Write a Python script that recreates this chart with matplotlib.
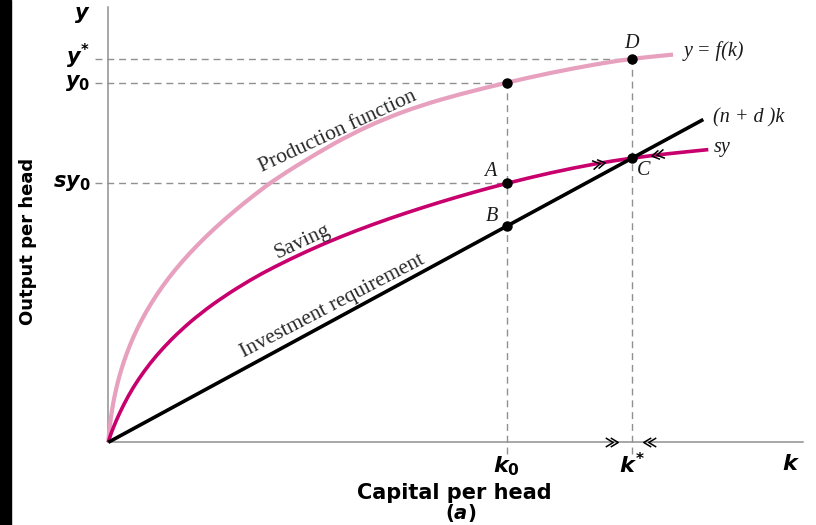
import matplotlib
matplotlib.use("Agg")
import matplotlib.pyplot as plt
from matplotlib.patches import Rectangle, PathPatch
from matplotlib.path import Path
from matplotlib.markers import MarkerStyle
from matplotlib.transforms import Affine2D

# curves (k = capital per head, y = output per head)
prod_k = [0, 0.012, 0.034, 0.064, 0.104, 0.154, 0.216, 0.29, 0.378, 0.481, 0.60,
          0.736, 0.891, 1.063, 1.252, 1.458, 1.681, 2.087, 2.417, 2.767, 3.117,
          3.517, 3.984, 4.417, 4.887, 5.234, 5.647]
prod_y = [0, 0.14, 0.306, 0.473, 0.64, 0.806, 0.973, 1.14, 1.306, 1.473, 1.64,
          1.806, 1.973, 2.14, 2.306, 2.473, 2.64, 2.891, 3.076, 3.237, 3.366,
          3.482, 3.597, 3.694, 3.783, 3.836, 3.877]

save_k = [0, 0.02, 0.05, 0.11, 0.20, 0.30, 0.42, 0.55, 0.72, 0.92, 1.15, 1.42,
          1.65, 1.98, 2.32, 2.65, 2.98, 3.32, 3.65, 3.984, 4.417, 4.884, 5.234,
          5.584, 6.0]
save_y = [0, 0.067, 0.147, 0.288, 0.466, 0.629, 0.794, 0.946, 1.117, 1.288,
          1.455, 1.624, 1.749, 1.909, 2.055, 2.181, 2.295, 2.403, 2.50, 2.59,
          2.695, 2.789, 2.842, 2.885, 2.927]

inv_k = [0, 5.95]
inv_y = [0, 3.228]

k0, kstar = 3.984, 5.234
y0, ystar, sy0 = 3.597, 3.836, 2.59
yB, yC = 2.162, 2.842

PINK = "#e7a0be"
MAGENTA = "#c8006e"
GRAY = "#909090"

plt.rcParams["mathtext.fontset"] = "custom"
plt.rcParams["mathtext.it"] = "DejaVu Sans:bold:italic"
plt.rcParams["mathtext.rm"] = "DejaVu Sans:bold"
plt.rcParams["mathtext.bf"] = "DejaVu Sans:bold"


def smooth_curve(xs, ys):
    # quadratic bezier through midpoints, so the read points give a smooth stroke
    pts = list(zip(xs, ys))
    verts = [pts[0]]
    codes = [Path.MOVETO]
    mid = lambda a, b: ((a[0] + b[0]) / 2, (a[1] + b[1]) / 2)
    verts.append(mid(pts[0], pts[1]))
    codes.append(Path.LINETO)
    for i in range(1, len(pts) - 1):
        verts += [pts[i], mid(pts[i], pts[i + 1])]
        codes += [Path.CURVE3, Path.CURVE3]
    verts.append(pts[-1])
    codes.append(Path.LINETO)
    return Path(verts, codes)


fig = plt.figure(figsize=(8.16, 5.25), dpi=100)
ax = fig.add_axes([0, 0, 1, 1])
ax.set_xlim(-1.083, 7.077)
ax.set_ylim(-0.827, 4.423)
ax.axis("off")

# black strip on the left edge
fig.patches.append(Rectangle((0, 0), 11 / 816, 1, transform=fig.transFigure,
                             color="black", zorder=0))

# axes
ax.plot([0, 0], [0, 4.35], color=GRAY, lw=1.1, zorder=1)
ax.plot([0, 6.95], [0, 0], color=GRAY, lw=1.1, zorder=1)

# guide lines
dash = dict(color=GRAY, lw=1.0, linestyle=(0, (5, 3.5)), zorder=1)
ax.plot([-0.13, kstar], [ystar, ystar], **dash)
ax.plot([-0.13, k0], [y0, y0], **dash)
ax.plot([-0.13, k0], [sy0, sy0], **dash)
ax.plot([k0, k0], [-0.12, y0], **dash)
ax.plot([kstar, kstar], [-0.12, ystar], **dash)

# curves
ax.add_patch(PathPatch(smooth_curve(prod_k, prod_y), fill=False, ec=PINK,
                       lw=3.0, capstyle="butt", joinstyle="round", zorder=2))
ax.add_patch(PathPatch(smooth_curve(save_k, save_y), fill=False, ec=MAGENTA,
                       lw=2.6, capstyle="butt", joinstyle="round", zorder=3))
ax.plot(inv_k, inv_y, color="black", lw=2.6, solid_capstyle="butt", zorder=4)

# points
ax.plot([k0, k0, k0, kstar, kstar], [y0, sy0, yB, ystar, yC], "o",
        color="black", ms=6.5, zorder=6)

# double chevrons showing direction of adjustment
chev = Path([(-0.5, 0.6), (0.5, 0), (-0.5, -0.6)],
            [Path.MOVETO, Path.LINETO, Path.LINETO])


def chevrons(x, y, ang, dx, dy):
    m = MarkerStyle(chev, transform=Affine2D().rotate_deg(ang))
    ax.plot([x, x + dx], [y, y + dy], linestyle="none", marker=m, ms=6.5,
            mfc="none", mec="black", mew=1.1, zorder=7)


chevrons(4.93, 2.797, 10, -0.05, -0.009)
chevrons(5.47, 2.878, 190, 0.05, 0.006)
chevrons(5.06, 0, 0, -0.05, 0)
chevrons(5.39, 0, 180, 0.05, 0)

# axis labels
lab = dict(fontsize=15, color="black", va="center", ha="right")
ax.text(-0.18, 4.27, r"$y$", **lab)
ax.text(-0.18, 3.86, r"$y^{*}$", **lab)
ax.text(-0.18, 3.59, r"$y_{0}$", **lab)
ax.text(-0.18, 2.59, r"$sy_{0}$", **lab)
ax.text(k0, -0.24, r"$k_{0}$", fontsize=16, ha="center", va="center")
ax.text(kstar, -0.22, r"$k^{*}$", fontsize=16, ha="center", va="center")
ax.text(6.83, -0.22, r"$k$", fontsize=16, ha="center", va="center")

ax.text(3.46, -0.51, "Capital per head", fontsize=15, fontweight="bold",
        ha="center", va="center")
ax.text(3.52, -0.705, r"$(a)$", fontsize=14, ha="center", va="center")
ax.text(-0.80, 2.01, "Output per head", fontsize=13, fontweight="bold",
        rotation=90, ha="center", va="center")

# curve labels
serif = dict(family="Liberation Serif", fontsize=15.5, color="#2a2a2a",
             ha="center", va="center", rotation_mode="anchor")
ax.text(2.30, 3.11, "Production function", rotation=25, **serif)
ax.text(1.947, 2.00, "Saving", rotation=25, **serif)
ax.text(2.242, 1.36, "Investment requirement", rotation=27.5, **serif)

it = dict(family="Liberation Serif", style="italic", fontsize=14.5,
          va="center", color="#1a1a1a")
ax.text(kstar, 3.99, "D", ha="center", **it)
ax.text(3.82, 2.71, "A", ha="center", **it)
ax.text(3.84, 2.26, "B", ha="center", **it)
ax.text(5.35, 2.72, "C", ha="center", **it)
ax.text(5.75, 3.91, "y = f(k)", ha="left", **it)
ax.text(6.05, 3.24, "(n + d )k", ha="left", **it)
ax.text(6.05, 2.95, "sy", ha="left", **it)

fig.savefig("out.png", dpi=100)
